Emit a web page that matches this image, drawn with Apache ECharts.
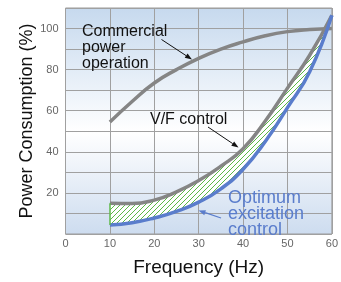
<!DOCTYPE html>
<html>
<head>
<meta charset="utf-8">
<script src="https://cdn.jsdelivr.net/npm/echarts@6/dist/echarts.min.js"></script>
<style>
  html, body { margin: 0; padding: 0; background: #fff; }
  #main { width: 341px; height: 282px; }
</style>
</head>
<body>
<div id="main"></div>
<script>
// values (frequency axis every 5 Hz, curves start at 10 Hz)
var freq = ['0', '5', '10', '15', '20', '25', '30', '35', '40', '45', '50', '55', '60'];
var commercial = ['-', '-', 54.5, 64.5, 73.5, 80, 85.5, 90, 93.5, 96.5, 98.5, 99.5, 100];
var vfControl = ['-', '-', 15, 14.8, 16.5, 20.5, 26, 33, 41.5, 55, 71, 87, 106.5];
var optimum = ['-', '-', 4.4, 5.5, 7.8, 11, 15.5, 22, 31.5, 45, 61.5, 79, 106.5];

// difference between V/F and optimum, stacked on optimum for the hatch
var gap = vfControl.map(function (v, i) {
  return v === '-' ? '-' : Math.max(0, v - optimum[i]);
});

// green diagonal hatch
var tile = document.createElement('canvas');
tile.width = 5; tile.height = 5;
var ctx = tile.getContext('2d');
ctx.fillStyle = '#ffffff';
ctx.fillRect(0, 0, 5, 5);
ctx.strokeStyle = '#5cb848';
ctx.lineWidth = 1;
ctx.beginPath();
ctx.moveTo(0, 5); ctx.lineTo(5, 0);
ctx.moveTo(-1, 1); ctx.lineTo(1, -1);
ctx.moveTo(4, 6); ctx.lineTo(6, 4);
ctx.stroke();

var font = '"Liberation Sans", Arial, sans-serif';

// arrow annotation: line plus filled head, pixel positions
function arrow(x1, y1, x2, y2, color, w) {
  var a = Math.atan2(y2 - y1, x2 - x1), L = 7, H = 2.6;
  var bx = x2 - L * Math.cos(a), by = y2 - L * Math.sin(a);
  return [
    { type: 'line', z: 100, shape: { x1: x1, y1: y1, x2: bx, y2: by },
      style: { stroke: color, lineWidth: w } },
    { type: 'polygon', z: 100, shape: { points: [
        [x2, y2],
        [bx + H * Math.sin(a), by - H * Math.cos(a)],
        [bx - H * Math.sin(a), by + H * Math.cos(a)]
      ] }, style: { fill: color } }
  ];
}

var myChart = echarts.init(document.getElementById('main'));

var option = {
  animation: false,
  grid: {
    left: 65.5, right: 3.5, top: 8, bottom: 43,
    show: true,
    borderColor: '#9a9a9a',
    borderWidth: 1,
    backgroundColor: new echarts.graphic.LinearGradient(0, 0, 0, 1, [
      { offset: 0, color: '#c6d9ee' },
      { offset: 0.55, color: '#ffffff' },
      { offset: 1, color: '#cddcef' }
    ])
  },
  xAxis: {
    type: 'category', data: freq, boundaryGap: false,
    name: 'Frequency (Hz)', nameLocation: 'middle', nameGap: 24, nameMoveOverlap: false,
    nameTextStyle: { fontFamily: font, fontSize: 19, color: '#111' },
    axisLine: { show: false },
    axisTick: { show: false },
    axisLabel: { interval: 1, fontFamily: font, fontSize: 11, color: '#666', margin: 4 },
    splitLine: { show: true, interval: 1, lineStyle: { color: '#a0a0a0', width: 1 } }
  },
  yAxis: {
    type: 'value', min: 0, max: 110, interval: 10,
    name: 'Power Consumption (%)', nameLocation: 'middle', nameGap: 29, nameMoveOverlap: false,
    nameTextStyle: { fontFamily: font, fontSize: 18, color: '#111' },
    axisLine: { show: false },
    axisTick: { show: false },
    axisLabel: {
      fontFamily: font, fontSize: 11, color: '#666', margin: 7,
      formatter: function (v) { return (v > 0 && v % 20 === 0 && v <= 100) ? v : ''; }
    },
    splitLine: { lineStyle: { color: '#a0a0a0', width: 1 } }
  },
  series: [
    {
      name: 'Commercial power operation', type: 'line', smooth: true,
      data: commercial, symbol: 'none',
      lineStyle: { color: '#858585', width: 3.5 }
    },
    {
      name: 'base', type: 'line', smooth: true, stack: 'band',
      data: optimum, symbol: 'none',
      lineStyle: { opacity: 0 }
    },
    {
      name: 'band', type: 'line', smooth: true, stack: 'band',
      data: gap, symbol: 'none',
      lineStyle: { opacity: 0 },
      areaStyle: { color: { image: tile, repeat: 'repeat' }, opacity: 1 },
      markLine: {
        silent: true, symbol: 'none', label: { show: false },
        lineStyle: { color: '#5cb848', width: 1.5, type: 'solid' },
        data: [[{ coord: ['10', optimum[2]] }, { coord: ['10', vfControl[2]] }]]
      }
    },
    {
      name: 'V/F control', type: 'line', smooth: true,
      data: vfControl, symbol: 'none',
      lineStyle: { color: '#858585', width: 3.5 }
    },
    {
      name: 'Optimum excitation control', type: 'line', smooth: true,
      data: optimum, symbol: 'none',
      lineStyle: { color: '#5a7dcc', width: 3.5 }
    }
  ],
  graphic: [
    {
      type: 'text', left: 82, top: 24, z: 100,
      style: { text: 'Commercial\npower\noperation', font: '16px ' + font, fill: '#111', lineHeight: 16 }
    },
    {
      type: 'text', left: 150, top: 112, z: 100,
      style: { text: 'V/F control', font: '16px ' + font, fill: '#111', lineHeight: 16 }
    },
    {
      type: 'text', left: 228, top: 189, z: 100,
      style: { text: 'Optimum\nexcitation\ncontrol', font: '18px ' + font, fill: '#5a7dcc', lineHeight: 16 }
    }
  ]
    .concat(arrow(161.5, 39.5, 192, 59.5, '#111', 1))
    .concat(arrow(208, 127, 238.5, 147.5, '#111', 1))
    .concat(arrow(221, 218, 198.5, 210.5, '#5a7dcc', 1.3))
};
myChart.setOption(option);
</script>
</body>
</html>
